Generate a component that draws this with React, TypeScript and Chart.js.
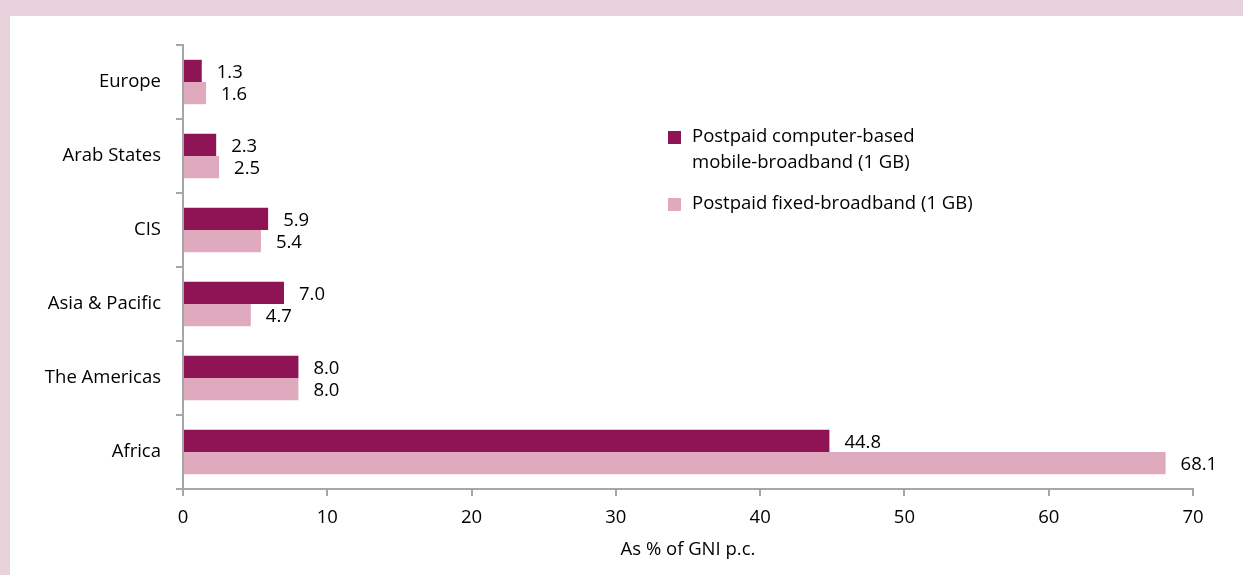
import React, { useEffect, useRef } from "react";
import { Chart, registerables } from "chart.js";

Chart.register(...registerables);

const categories = ["Europe", "Arab States", "CIS", "Asia & Pacific", "The Americas", "Africa"];
const mobileValues = [1.3, 2.3, 5.9, 7.0, 8.0, 44.8];
const fixedValues = [1.6, 2.5, 5.4, 4.7, 8.0, 68.1];
const seriesNames = [["Postpaid computer-based", "mobile-broadband (1 GB)"], ["Postpaid fixed-broadband (1 GB)"]];
const xTicks = [0, 10, 20, 30, 40, 50, 60, 70];
const axisTitle = "As % of GNI p.c.";

const DARK = "#8e1456";
const LIGHT = "#dfaabe";
const AXIS = "#a6a6a6";
const FONT = "'Open Sans', 'DejaVu Sans', sans-serif";
const FS = 18.5;

const labelsPlugin = {
  id: "valueLabels",
  afterDatasetsDraw(chart: any) {
    const ctx = chart.ctx;
    ctx.save();
    ctx.font = `${FS}px ${FONT}`;
    ctx.fillStyle = "#000";
    ctx.textBaseline = "middle";
    ctx.textAlign = "left";
    chart.data.datasets.forEach((ds: any, di: number) => {
      const meta = chart.getDatasetMeta(di);
      meta.data.forEach((el: any, i: number) => {
        const v = ds.data[i];
        ctx.fillText(v.toFixed(1), el.x + 15, el.y + 1.5);
      });
    });
    // legend
    const area = chart.chartArea;
    const lx = area.left + 485;
    const tx = lx + 24;
    const colors = [DARK, LIGHT];
    const tops = [area.top + 92, area.top + 159];
    seriesNames.forEach((lines, i) => {
      ctx.fillStyle = colors[i];
      ctx.fillRect(lx, tops[i] - 6, 13, 13);
      ctx.fillStyle = "#000";
      lines.forEach((line, j) => {
        ctx.fillText(line, tx, tops[i] + j * 26);
      });
    });
    ctx.restore();
  },
};

export default function App() {
  const ref = useRef<HTMLCanvasElement>(null);
  useEffect(() => {
    const chart = new Chart(ref.current!, {
      type: "bar",
      data: {
        labels: categories,
        datasets: [
          { label: seriesNames[0].join(" "), data: mobileValues, backgroundColor: DARK, categoryPercentage: 0.6, barPercentage: 1 },
          { label: seriesNames[1].join(" "), data: fixedValues, backgroundColor: LIGHT, categoryPercentage: 0.6, barPercentage: 1 },
        ],
      },
      options: {
        indexAxis: "y",
        responsive: false,
        animation: false,
        layout: { padding: { left: 0, top: 29, right: 50, bottom: 0 } },
        plugins: { legend: { display: false }, tooltip: { enabled: false } },
        scales: {
          x: {
            min: 0,
            max: 70,
            afterBuildTicks: (s: any) => { s.ticks = xTicks.map((v) => ({ value: v })); },
            afterFit: (s: any) => { s.height = 86; },
            border: { color: AXIS, width: 2 },
            grid: { drawOnChartArea: false, drawTicks: true, tickLength: 7, color: AXIS, lineWidth: 2 },
            ticks: { color: "#000", font: { family: FONT, size: FS }, padding: 11 },
            title: { display: true, text: axisTitle, color: "#000", font: { family: FONT, size: FS }, padding: { top: 0, bottom: 14 } },
          },
          y: {
            afterFit: (s: any) => { s.width = 173; },
            border: { color: AXIS, width: 2 },
            grid: { drawOnChartArea: false, drawTicks: true, tickLength: 7, color: AXIS, lineWidth: 2, offset: true },
            ticks: { color: "#000", font: { family: FONT, size: FS }, padding: 15 },
          },
        },
      },
      plugins: [labelsPlugin],
    } as any);
    return () => chart.destroy();
  }, []);
  return (
    <div style={{ position: "fixed", left: 0, top: 0, width: 1243, height: 575, background: "#e8d3dc" }}>
      <div style={{ position: "absolute", left: 10, top: 16, width: 1233, height: 559, background: "#fff" }}>
        <canvas ref={ref} width={1233} height={559} />
      </div>
    </div>
  );
}
